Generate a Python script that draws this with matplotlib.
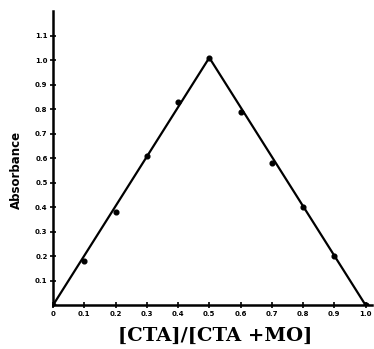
import matplotlib
matplotlib.use("Agg")
import matplotlib.pyplot as plt
import numpy as np

# mole fraction of CTA and measured absorbance
ratio = [0.0, 0.1, 0.2, 0.3, 0.4, 0.5, 0.6, 0.7, 0.8, 0.9, 1.0]
absorbance = [0.0, 0.18, 0.38, 0.61, 0.83, 1.01, 0.79, 0.58, 0.40, 0.20, 0.0]

xticks = [0.0, 0.1, 0.2, 0.3, 0.4, 0.5, 0.6, 0.7, 0.8, 0.9, 1.0]
xlabels = ["0", "0.1", "0.2", "0.3", "0.4", "0.5", "0.6", "0.7", "0.8", "0.9", "1.0"]
yticks = [0.1, 0.2, 0.3, 0.4, 0.5, 0.6, 0.7, 0.8, 0.9, 1.0, 1.1]
ylabels = ["0.1", "0.2", "0.3", "0.4", "0.5", "0.6", "0.7", "0.8", "0.9", "1.0", "1.1"]

fig = plt.figure(figsize=(3.74, 3.49), dpi=100)
ax = fig.add_axes([0.142, 0.126, 0.852, 0.842])

# two straight lines meeting at the maximum
peak = int(np.argmax(absorbance))
ax.plot([ratio[0], ratio[peak], ratio[-1]],
        [absorbance[0], absorbance[peak], absorbance[-1]],
        color="black", lw=1.6, solid_capstyle="round")
ax.plot(ratio, absorbance, "o", color="black", ms=3.4)

ax.set_xlim(0, 1.02)
ax.set_ylim(0, 1.2)
ax.spines["top"].set_visible(False)
ax.spines["right"].set_visible(False)
ax.spines["left"].set_linewidth(1.8)
ax.spines["bottom"].set_linewidth(1.8)

ax.set_xticks(xticks)
ax.set_xticklabels(xlabels, fontsize=5, fontweight="bold")
ax.set_yticks(yticks)
ax.set_yticklabels(ylabels, fontsize=5, fontweight="bold")
ax.tick_params(direction="inout", length=4, width=1.2, pad=2)

ax.set_ylabel("Absorbance", fontsize=8.5, fontweight="bold")
ax.yaxis.set_label_coords(-0.094, 0.46)
ax.set_xlabel("[CTA]/[CTA +MO]", fontsize=14, fontweight="bold", family="DejaVu Serif")
ax.xaxis.set_label_coords(0.508, -0.075)

fig.savefig("out.png", dpi=100)
